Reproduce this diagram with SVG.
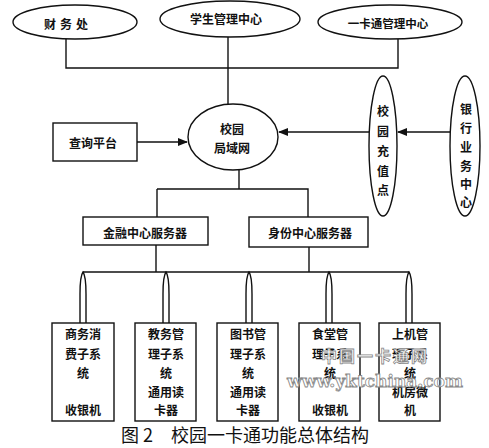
<svg xmlns="http://www.w3.org/2000/svg" width="489" height="448" viewBox="0 0 489 448">
<style>
.s{fill:none;stroke:#111;stroke-width:1.4}
.n{fill:#fff;stroke:#111;stroke-width:1.4}
text{font-family:"Noto Sans CJK SC","Noto Sans",sans-serif;font-weight:bold;fill:#111;text-anchor:middle;dominant-baseline:central}
.t12{font-size:12px}
.cap{font-size:18px;font-weight:normal;text-anchor:start}
.wm{font-family:"DejaVu Serif",serif;font-weight:bold;fill:#fff;stroke:#888;stroke-width:0.8}
</style>
<defs>
<marker id="ah" markerWidth="10" markerHeight="8" refX="9" refY="4" orient="auto" markerUnits="userSpaceOnUse">
<path d="M0,0 L10,4 L0,8 Z" fill="#111"/>
</marker>
</defs>
<rect width="489" height="448" fill="#fff"/>
<g id="connectors">
<path class="s" d="M66,39 V68 H398 V39"/>
<path class="s" d="M228,37 V105"/>
<path class="s" d="M137,142 H187" marker-end="url(#ah)"/>
<path class="s" d="M369,132 H279" marker-end="url(#ah)"/>
<path class="s" d="M451,132 H398" marker-end="url(#ah)"/>
<path class="s" d="M239,170 V189"/>
<path class="s" d="M157,189 H308 V217"/>
<path class="s" d="M157,189 V217"/>
<path class="s" d="M156,245 V272"/>
<path class="s" d="M309,247 V272"/>
<path class="s" d="M83,272 H409"/>
<path class="s" d="M80,323 V294 Q80,276 83,272 Q86,276 86,294 V323"/>
<path class="s" d="M163,323 V294 Q163,276 166,272 Q169,276 169,294 V323"/>
<path class="s" d="M246,323 V294 Q246,276 249,272 Q252,276 252,294 V323"/>
<path class="s" d="M326,323 V294 Q326,276 329,272 Q332,276 332,294 V323"/>
<path class="s" d="M406,323 V294 Q406,276 409,272 Q412,276 412,294 V323"/>
</g>
<g id="caiwu"><ellipse class="n" cx="75" cy="22" rx="62" ry="17"/><text class="t12" x="68" y="23" letter-spacing="4">财务处</text></g>
<g id="xuesheng"><ellipse class="n" cx="230" cy="19" rx="70" ry="18"/><text class="t12" x="226" y="18" font-size="13">学生管理中心</text></g>
<g id="yikatong"><ellipse class="n" cx="390" cy="22" rx="72" ry="17"/><text class="t12" x="388" y="23" style="font-size:11.5px">一卡通管理中心</text></g>
<g id="lan"><ellipse class="n" cx="233" cy="137" rx="45" ry="33"/><text class="t12" x="232" y="128">校园</text><text class="t12" x="232" y="147">局域网</text></g>
<g id="chaxun"><rect class="n" x="53" y="123" width="84" height="38"/><text class="t12" x="93" y="142">查询平台</text></g>
<g id="chongzhi"><ellipse class="n" cx="383" cy="146" rx="14" ry="70"/>
<text class="t12" x="383" y="110">校</text><text class="t12" x="383" y="130">园</text><text class="t12" x="383" y="150">充</text><text class="t12" x="383" y="170">值</text><text class="t12" x="383" y="189">点</text></g>
<g id="yinhang"><ellipse class="n" cx="465" cy="146" rx="15" ry="70"/>
<text class="t12" x="466" y="108">银</text><text class="t12" x="466" y="127">行</text><text class="t12" x="466" y="146">业</text><text class="t12" x="466" y="165">务</text><text class="t12" x="466" y="183">中</text><text class="t12" x="466" y="201">心</text></g>
<g id="jinrong"><rect class="n" x="83" y="217" width="125" height="28"/><text class="t12" x="145" y="232">金融中心服务器</text></g>
<g id="shenfen"><rect class="n" x="249" y="217" width="119" height="30"/><text class="t12" x="310" y="232">身份中心服务器</text></g>
<g id="shangwu"><rect class="n" x="52" y="323" width="62" height="98"/>
<text class="t12" x="83" y="333">商务消</text><text class="t12" x="83" y="353">费子系</text><text class="t12" x="83" y="372">统</text><text class="t12" x="83" y="409">收银机</text></g>
<g id="jiaowu"><rect class="n" x="135" y="323" width="61" height="98"/>
<text class="t12" x="166" y="333">教务管</text><text class="t12" x="166" y="353">理子系</text><text class="t12" x="166" y="372">统</text><text class="t12" x="166" y="391">通用读</text><text class="t12" x="166" y="409">卡器</text></g>
<g id="tushu"><rect class="n" x="217" y="323" width="61" height="98"/>
<text class="t12" x="248" y="333">图书管</text><text class="t12" x="248" y="353">理子系</text><text class="t12" x="248" y="372">统</text><text class="t12" x="248" y="391">通用读</text><text class="t12" x="248" y="409">卡器</text></g>
<g id="shitang"><rect class="n" x="299" y="323" width="61" height="98"/>
<text class="t12" x="330" y="333">食堂管</text><text class="t12" x="330" y="353">理子系</text><text class="t12" x="330" y="372">统</text><text class="t12" x="330" y="409">收银机</text></g>
<g id="shangji"><rect class="n" x="379" y="323" width="61" height="98"/>
<text class="t12" x="410" y="333">上机管</text><text class="t12" x="410" y="353">理子系</text><text class="t12" x="410" y="372">统</text><text class="t12" x="410" y="391">机房微</text><text class="t12" x="410" y="409">机</text></g>
<g id="watermark">
<text class="wm" x="375" y="355" style="font-family:'Noto Sans CJK SC',sans-serif;font-size:16px" letter-spacing="2">中国一卡通网</text>
<text class="wm" x="375" y="381" style="font-size:17px">www.yktchina.com</text>
</g>
<g id="caption"><text class="cap" x="121" y="434">图 2　校园一卡通功能总体结构</text></g>
</svg>
